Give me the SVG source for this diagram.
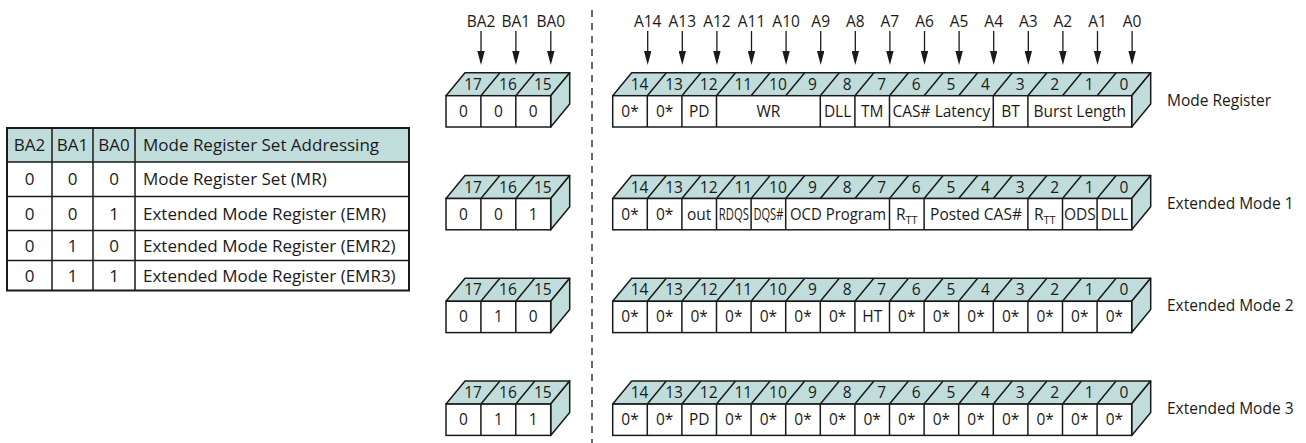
<svg xmlns="http://www.w3.org/2000/svg" xmlns:xlink="http://www.w3.org/1999/xlink" width="1306" height="443" viewBox="0 0 1306 443">
<style>
.t{font-family:"Open Sans","Noto Sans","Liberation Sans",sans-serif;font-size:15.5px;fill:#1a1a1a}
.tb{font-family:"Open Sans","Noto Sans","Liberation Sans",sans-serif;font-size:17px;fill:#1a1a1a}
.c{text-anchor:middle}
.face{fill:#c0dcdb;stroke:#1a1a1a;stroke-width:1.5;stroke-linejoin:round}
.front{fill:#ffffff;stroke:#1a1a1a;stroke-width:1.5}
.ln{fill:none;stroke:#1a1a1a;stroke-width:1.5}
.arr{fill:none;stroke:#1a1a1a;stroke-width:1.3;marker-end:url(#ah)}
.sep{fill:none;stroke:#1a1a1a;stroke-width:1.3;stroke-dasharray:7 6}
</style>
<defs>
<marker id="ah" markerUnits="userSpaceOnUse" viewBox="0 0 14 7.4" markerWidth="14" markerHeight="7.4" refX="9" refY="3.7" orient="auto">
<path d="M0,0 L14,3.7 L0,7.4 Z" fill="#1a1a1a"/>
</marker>
<g id="regShell">
<path class="face" d="M612.7,0 L631.7,-23 L1150.7,-23 L1131.7,0 Z"/>
<path class="face" d="M1131.7,0 L1150.7,-23 L1150.7,8.3 L1131.7,31.3 Z"/>
<rect class="front" x="612.7" y="0" width="519" height="31.3"/>
<path class="ln" d="M647.3,0 l19,-23 M681.9,0 l19,-23 M716.5,0 l19,-23 M751.1,0 l19,-23 M785.7,0 l19,-23 M820.3,0 l19,-23 M854.9,0 l19,-23 M889.5,0 l19,-23 M924.1,0 l19,-23 M958.7,0 l19,-23 M993.3,0 l19,-23 M1027.9,0 l19,-23 M1062.5,0 l19,-23 M1097.1,0 l19,-23"/>
</g>
<g id="baShell">
<path class="face" d="M446,0 L465,-23 L569.7,-23 L550.7,0 Z"/>
<path class="face" d="M550.7,0 L569.7,-23 L569.7,8.3 L550.7,31.3 Z"/>
<rect class="front" x="446" y="0" width="104.7" height="31.3"/>
<path class="ln" d="M480.9,0 l19,-23 M515.8,0 l19,-23 M480.9,0 v31.3 M515.8,0 v31.3"/>
</g>
</defs>

<g id="separator">
<line class="sep" x1="592" y1="10" x2="592" y2="443"/>
</g>

<g id="connectors">
<path class="arr" d="M481,31 V60"/>
<path class="arr" d="M515.9,31 V60"/>
<path class="arr" d="M550.8,31 V60"/>
<path class="arr" d="M647.7,31 V60"/>
<path class="arr" d="M682.3,31 V60"/>
<path class="arr" d="M716.9,31 V60"/>
<path class="arr" d="M751.5,31 V60"/>
<path class="arr" d="M786.1,31 V60"/>
<path class="arr" d="M820.7,31 V60"/>
<path class="arr" d="M855.3,31 V60"/>
<path class="arr" d="M889.9,31 V60"/>
<path class="arr" d="M924.5,31 V60"/>
<path class="arr" d="M959.1,31 V60"/>
<path class="arr" d="M993.7,31 V60"/>
<path class="arr" d="M1028.3,31 V60"/>
<path class="arr" d="M1062.9,31 V60"/>
<path class="arr" d="M1097.5,31 V60"/>
<path class="arr" d="M1132.1,31 V60"/>
</g>

<g id="addr-labels" class="t c">
<text x="481" y="27">BA2</text>
<text x="515.9" y="27">BA1</text>
<text x="550.8" y="27">BA0</text>
<text x="647.7" y="27">A14</text>
<text x="682.3" y="27">A13</text>
<text x="716.9" y="27">A12</text>
<text x="751.5" y="27">A11</text>
<text x="786.1" y="27">A10</text>
<text x="820.7" y="27">A9</text>
<text x="855.3" y="27">A8</text>
<text x="889.9" y="27">A7</text>
<text x="924.5" y="27">A6</text>
<text x="959.1" y="27">A5</text>
<text x="993.7" y="27">A4</text>
<text x="1028.3" y="27">A3</text>
<text x="1062.9" y="27">A2</text>
<text x="1097.5" y="27">A1</text>
<text x="1132.1" y="27">A0</text>
</g>

<g id="table">
<rect x="7" y="128" width="402" height="34" fill="#c0dcdb"/>
<rect x="7" y="128" width="402" height="162.5" fill="none" stroke="#1a1a1a" stroke-width="2"/>
<path class="ln" d="M7,162 H409 M7,196.5 H409 M7,230.5 H409 M7,260.5 H409 M52,128 V290.5 M93,128 V290.5 M135,128 V290.5"/>
<g class="tb">
<text class="c" x="29.5" y="151">BA2</text>
<text class="c" x="72.5" y="151">BA1</text>
<text class="c" x="114" y="151">BA0</text>
<text x="143" y="151">Mode Register Set Addressing</text>
<text class="c" x="29.5" y="185.3">0</text>
<text class="c" x="72.5" y="185.3">0</text>
<text class="c" x="114" y="185.3">0</text>
<text x="143" y="185.3">Mode Register Set (MR)</text>
<text class="c" x="29.5" y="219.5">0</text>
<text class="c" x="72.5" y="219.5">0</text>
<text class="c" x="114" y="219.5">1</text>
<text x="143" y="219.5">Extended Mode Register (EMR)</text>
<text class="c" x="29.5" y="251.5">0</text>
<text class="c" x="72.5" y="251.5">1</text>
<text class="c" x="114" y="251.5">0</text>
<text x="143" y="251.5">Extended Mode Register (EMR2)</text>
<text class="c" x="29.5" y="281.5">0</text>
<text class="c" x="72.5" y="281.5">1</text>
<text class="c" x="114" y="281.5">1</text>
<text x="143" y="281.5">Extended Mode Register (EMR3)</text>
</g>
</g>

<g id="ba-mr" transform="translate(0,95.7)">
<use xlink:href="#baShell"/>
<g class="t c"><text x="473" y="-6">17</text><text x="507.9" y="-6">16</text><text x="542.8" y="-6">15</text>
<text x="463.5" y="21.2">0</text><text x="498.4" y="21.2">0</text><text x="533.3" y="21.2">0</text></g>
</g>
<g id="ba-emr1" transform="translate(0,198.5)">
<use xlink:href="#baShell"/>
<g class="t c"><text x="473" y="-6">17</text><text x="507.9" y="-6">16</text><text x="542.8" y="-6">15</text>
<text x="463.5" y="21.2">0</text><text x="498.4" y="21.2">0</text><text x="533.3" y="21.2">1</text></g>
</g>
<g id="ba-emr2" transform="translate(0,301.3)">
<use xlink:href="#baShell"/>
<g class="t c"><text x="473" y="-6">17</text><text x="507.9" y="-6">16</text><text x="542.8" y="-6">15</text>
<text x="463.5" y="21.2">0</text><text x="498.4" y="21.2">1</text><text x="533.3" y="21.2">0</text></g>
</g>
<g id="ba-emr3" transform="translate(0,404.1)">
<use xlink:href="#baShell"/>
<g class="t c"><text x="473" y="-6">17</text><text x="507.9" y="-6">16</text><text x="542.8" y="-6">15</text>
<text x="463.5" y="21.2">0</text><text x="498.4" y="21.2">1</text><text x="533.3" y="21.2">1</text></g>
</g>

<g id="reg-mr" transform="translate(0,95.7)">
<use xlink:href="#regShell"/>
<path class="ln" d="M647.3,0 v31.3 M681.9,0 v31.3 M716.5,0 v31.3 M820.3,0 v31.3 M854.9,0 v31.3 M889.5,0 v31.3 M993.3,0 v31.3 M1027.9,0 v31.3"/>
<g class="t c">
<text x="639.5" y="-6">14</text><text x="674.1" y="-6">13</text><text x="708.7" y="-6">12</text><text x="743.3" y="-6">11</text><text x="777.9" y="-6">10</text><text x="812.5" y="-6">9</text><text x="847.1" y="-6">8</text><text x="881.7" y="-6">7</text><text x="916.3" y="-6">6</text><text x="950.9" y="-6">5</text><text x="985.5" y="-6">4</text><text x="1020.1" y="-6">3</text><text x="1054.7" y="-6">2</text><text x="1089.3" y="-6">1</text><text x="1123.9" y="-6">0</text>
<text x="630" y="21.2">0*</text>
<text x="664.6" y="21.2">0*</text>
<text x="699.2" y="21.2">PD</text>
<text x="768.4" y="21.2">WR</text>
<text x="837.6" y="21.2">DLL</text>
<text x="872.2" y="21.2">TM</text>
<text x="941.4" y="21.2">CAS# Latency</text>
<text x="1010.6" y="21.2">BT</text>
<text x="1079.8" y="21.2">Burst Length</text>
</g>
<text class="t" x="1167" y="10">Mode Register</text>
</g>

<g id="reg-emr1" transform="translate(0,198.5)">
<use xlink:href="#regShell"/>
<path class="ln" d="M647.3,0 v31.3 M681.9,0 v31.3 M716.5,0 v31.3 M751.1,0 v31.3 M785.7,0 v31.3 M889.5,0 v31.3 M924.1,0 v31.3 M1027.9,0 v31.3 M1062.5,0 v31.3 M1097.1,0 v31.3"/>
<g class="t c">
<text x="639.5" y="-6">14</text><text x="674.1" y="-6">13</text><text x="708.7" y="-6">12</text><text x="743.3" y="-6">11</text><text x="777.9" y="-6">10</text><text x="812.5" y="-6">9</text><text x="847.1" y="-6">8</text><text x="881.7" y="-6">7</text><text x="916.3" y="-6">6</text><text x="950.9" y="-6">5</text><text x="985.5" y="-6">4</text><text x="1020.1" y="-6">3</text><text x="1054.7" y="-6">2</text><text x="1089.3" y="-6">1</text><text x="1123.9" y="-6">0</text>
<text x="630" y="21.2">0*</text>
<text x="664.6" y="21.2">0*</text>
<text x="699.2" y="21.2">out</text>
<text x="733.8" y="21.2" textLength="30" lengthAdjust="spacingAndGlyphs">RDQS</text>
<text x="768.4" y="21.2" textLength="30" lengthAdjust="spacingAndGlyphs">DQS#</text>
<text x="838" y="21.2" textLength="96" lengthAdjust="spacingAndGlyphs">OCD Program</text>
<text x="906.8" y="21.2">R<tspan font-size="11" dy="4.5">TT</tspan></text>
<text x="976" y="21.2">Posted CAS#</text>
<text x="1044.8" y="21.2">R<tspan font-size="11" dy="4.5">TT</tspan></text>
<text x="1079.8" y="21.2">ODS</text>
<text x="1114.4" y="21.2">DLL</text>
</g>
<text class="t" x="1167" y="10">Extended Mode 1</text>
</g>

<g id="reg-emr2" transform="translate(0,301.3)">
<use xlink:href="#regShell"/>
<path class="ln" d="M647.3,0 v31.3 M681.9,0 v31.3 M716.5,0 v31.3 M751.1,0 v31.3 M785.7,0 v31.3 M820.3,0 v31.3 M854.9,0 v31.3 M889.5,0 v31.3 M924.1,0 v31.3 M958.7,0 v31.3 M993.3,0 v31.3 M1027.9,0 v31.3 M1062.5,0 v31.3 M1097.1,0 v31.3"/>
<g class="t c">
<text x="639.5" y="-6">14</text><text x="674.1" y="-6">13</text><text x="708.7" y="-6">12</text><text x="743.3" y="-6">11</text><text x="777.9" y="-6">10</text><text x="812.5" y="-6">9</text><text x="847.1" y="-6">8</text><text x="881.7" y="-6">7</text><text x="916.3" y="-6">6</text><text x="950.9" y="-6">5</text><text x="985.5" y="-6">4</text><text x="1020.1" y="-6">3</text><text x="1054.7" y="-6">2</text><text x="1089.3" y="-6">1</text><text x="1123.9" y="-6">0</text>
<text x="630" y="21.2">0*</text><text x="664.6" y="21.2">0*</text><text x="699.2" y="21.2">0*</text><text x="733.8" y="21.2">0*</text><text x="768.4" y="21.2">0*</text><text x="803" y="21.2">0*</text><text x="837.6" y="21.2">0*</text><text x="872.2" y="21.2">HT</text><text x="906.8" y="21.2">0*</text><text x="941.4" y="21.2">0*</text><text x="976" y="21.2">0*</text><text x="1010.6" y="21.2">0*</text><text x="1045.2" y="21.2">0*</text><text x="1079.8" y="21.2">0*</text><text x="1114.4" y="21.2">0*</text>
</g>
<text class="t" x="1167" y="10">Extended Mode 2</text>
</g>

<g id="reg-emr3" transform="translate(0,404.1)">
<use xlink:href="#regShell"/>
<path class="ln" d="M647.3,0 v31.3 M681.9,0 v31.3 M716.5,0 v31.3 M751.1,0 v31.3 M785.7,0 v31.3 M820.3,0 v31.3 M854.9,0 v31.3 M889.5,0 v31.3 M924.1,0 v31.3 M958.7,0 v31.3 M993.3,0 v31.3 M1027.9,0 v31.3 M1062.5,0 v31.3 M1097.1,0 v31.3"/>
<g class="t c">
<text x="639.5" y="-6">14</text><text x="674.1" y="-6">13</text><text x="708.7" y="-6">12</text><text x="743.3" y="-6">11</text><text x="777.9" y="-6">10</text><text x="812.5" y="-6">9</text><text x="847.1" y="-6">8</text><text x="881.7" y="-6">7</text><text x="916.3" y="-6">6</text><text x="950.9" y="-6">5</text><text x="985.5" y="-6">4</text><text x="1020.1" y="-6">3</text><text x="1054.7" y="-6">2</text><text x="1089.3" y="-6">1</text><text x="1123.9" y="-6">0</text>
<text x="630" y="21.2">0*</text><text x="664.6" y="21.2">0*</text><text x="699.2" y="21.2">PD</text><text x="733.8" y="21.2">0*</text><text x="768.4" y="21.2">0*</text><text x="803" y="21.2">0*</text><text x="837.6" y="21.2">0*</text><text x="872.2" y="21.2">0*</text><text x="906.8" y="21.2">0*</text><text x="941.4" y="21.2">0*</text><text x="976" y="21.2">0*</text><text x="1010.6" y="21.2">0*</text><text x="1045.2" y="21.2">0*</text><text x="1079.8" y="21.2">0*</text><text x="1114.4" y="21.2">0*</text>
</g>
<text class="t" x="1167" y="10">Extended Mode 3</text>
</g>
</svg>
